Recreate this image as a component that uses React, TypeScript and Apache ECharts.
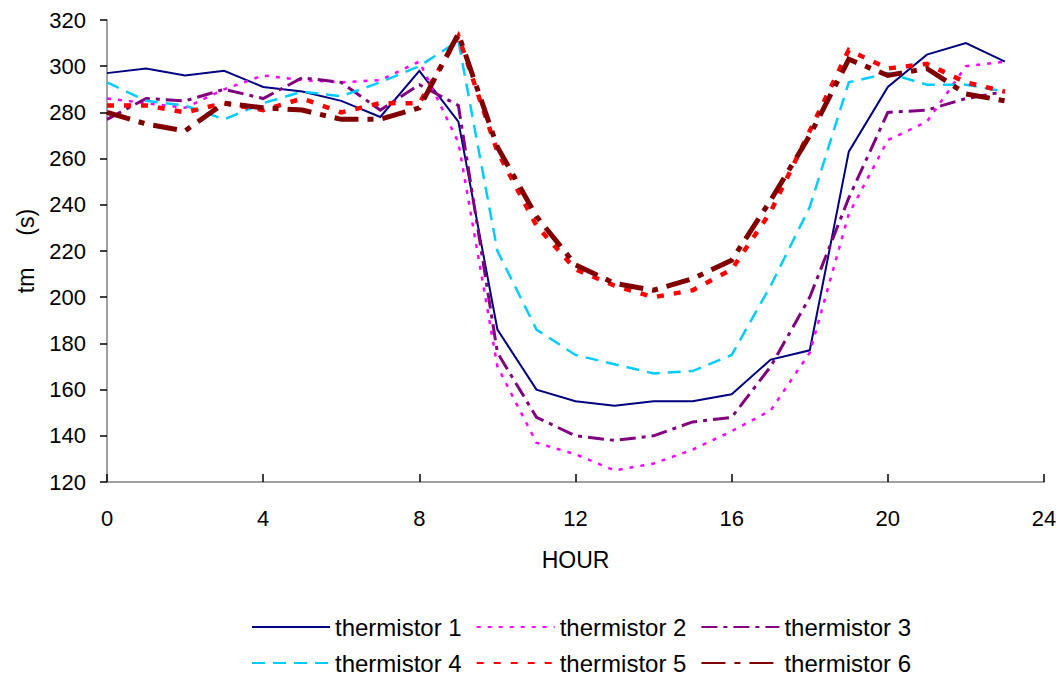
import React, { useEffect, useRef } from "react";
import * as echarts from "echarts";

const hours = [0, 1, 2, 3, 4, 5, 6, 7, 8, 9, 10, 11, 12, 13, 14, 15, 16, 17, 18, 19, 20, 21, 22, 23];

const thermistor1 = [297, 299, 296, 298, 291, 289, 285, 278, 298, 276, 186, 160, 155, 153, 155, 155, 158, 173, 177, 263, 291, 305, 310, 302];
const thermistor2 = [286, 284, 282, 290, 296, 294, 293, 294, 302, 267, 170, 137, 132, 125, 128, 134, 142, 151, 176, 236, 268, 276, 300, 302];
const thermistor3 = [277, 286, 285, 290, 286, 295, 293, 281, 292, 283, 176, 148, 140, 138, 140, 146, 148, 170, 200, 243, 280, 281, 286, 289];
const thermistor4 = [293, 285, 283, 277, 284, 289, 287, 293, 300, 311, 220, 186, 175, 171, 167, 168, 175, 205, 239, 293, 297, 292, 292, 289];
const thermistor5 = [283, 283, 280, 284, 281, 286, 280, 284, 284, 313, 263, 231, 212, 205, 200, 203, 212, 237, 272, 307, 299, 301, 293, 289];
const thermistor6 = [280, 275, 272, 284, 282, 281, 277, 277, 282, 314, 265, 235, 214, 206, 203, 208, 216, 242, 270, 303, 296, 299, 288, 285];

const seriesNames = ["thermistor 1", "thermistor 2", "thermistor 3", "thermistor 4", "thermistor 5", "thermistor 6"];
const seriesValues = [thermistor1, thermistor2, thermistor3, thermistor4, thermistor5, thermistor6];

const FONT = "'Liberation Sans', Arial, sans-serif";

const lineStyles = [
  { color: "#000080", width: 2, type: "solid" as any },
  { color: "#FF00FF", width: 2.5, type: [4, 7] as any },
  { color: "#800080", width: 3, type: [16, 6, 4, 6] as any },
  { color: "#00CCFF", width: 2.5, type: [13, 8] as any },
  { color: "#FF0000", width: 4.5, type: [7, 10] as any },
  { color: "#800000", width: 5, type: [24, 9, 6, 9] as any },
];

export default function App() {
  const ref = useRef<HTMLDivElement>(null);

  useEffect(() => {
    if (!ref.current) return;
    const chart = echarts.init(ref.current, undefined, { renderer: "svg" });

    const series = seriesNames.map((name, i) => ({
      name,
      type: "line",
      data: hours.map((h, j) => [h, seriesValues[i][j]]),
      symbol: "none",
      lineStyle: { ...lineStyles[i], cap: "butt", join: "miter" },
      itemStyle: { color: lineStyles[i].color },
    }));

    const legendCommon = {
      left: 251,
      padding: 0,
      itemWidth: 78,
      itemHeight: 14,
      itemGap: 14,
      orient: "horizontal",
      itemStyle: { opacity: 0 },
      textStyle: { fontFamily: FONT, fontSize: 24, color: "#000" },
    };

    chart.setOption({
      animation: false,
      backgroundColor: "#ffffff",
      grid: { left: 107, right: 18, top: 20, bottom: 197, containLabel: false },
      xAxis: {
        type: "value",
        min: 0,
        max: 24,
        interval: 4,
        name: "HOUR",
        nameLocation: "middle",
        nameGap: 66,
        nameTextStyle: { fontFamily: FONT, fontSize: 23, color: "#000" },
        axisLine: { show: true, lineStyle: { color: "#808080", width: 1.5 } },
        axisTick: { show: true, inside: true, length: 8, lineStyle: { color: "#000", width: 1.5 } },
        axisLabel: { fontFamily: FONT, fontSize: 22, color: "#000", margin: 25 },
        splitLine: { show: false },
      },
      yAxis: {
        type: "value",
        min: 120,
        max: 320,
        interval: 20,
        name: "tm     (s)",
        nameLocation: "middle",
        nameGap: 70,
        nameTextStyle: { fontFamily: FONT, fontSize: 23, color: "#000" },
        axisLine: { show: true, lineStyle: { color: "#808080", width: 1.5 } },
        axisTick: { show: true, inside: false, length: 7, lineStyle: { color: "#000", width: 1.5 } },
        axisLabel: { fontFamily: FONT, fontSize: 22, color: "#000", margin: 21 },
        splitLine: { show: false },
      },
      legend: [
        { ...legendCommon, top: 615, data: seriesNames.slice(0, 3) },
        { ...legendCommon, top: 651, data: seriesNames.slice(3, 6) },
      ],
      series,
    });

    return () => {
      chart.dispose();
    };
  }, []);

  return (
    <div
      ref={ref}
      style={{ position: "fixed", left: 0, top: 0, width: 1062, height: 679, background: "#fff" }}
    />
  );
}
